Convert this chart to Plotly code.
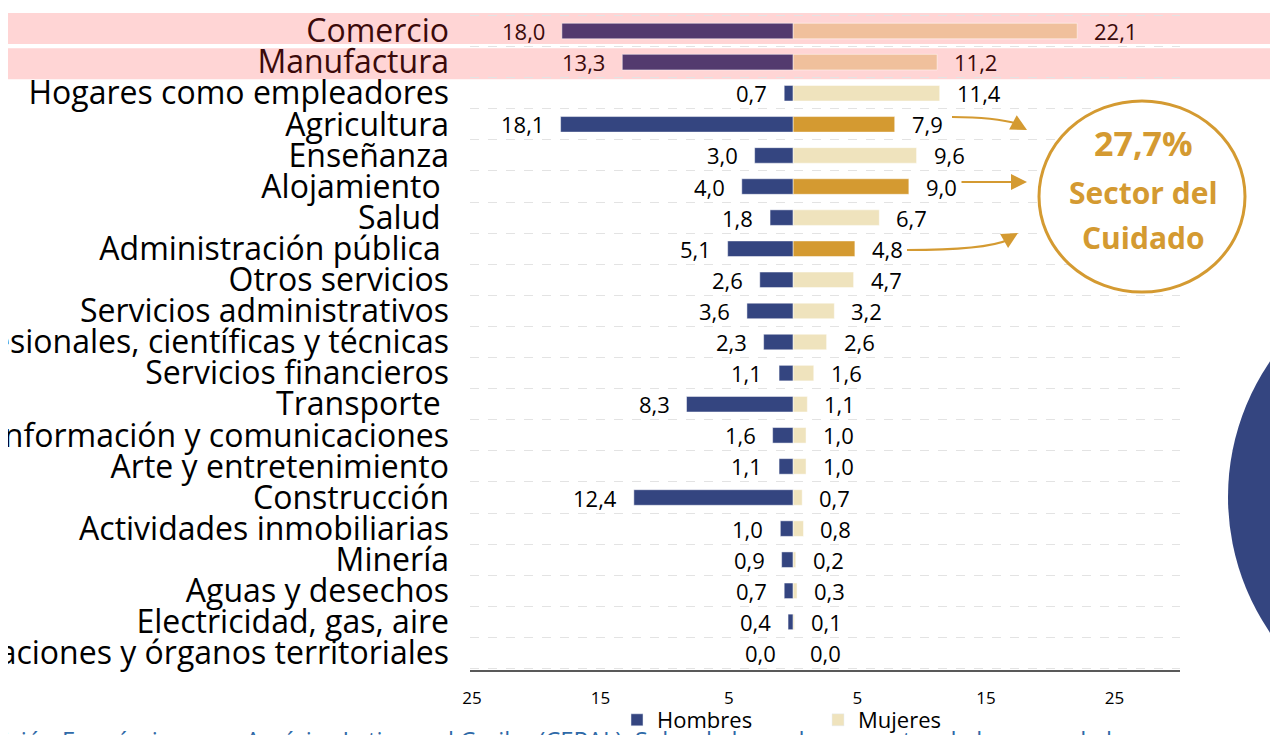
import plotly.graph_objects as go

categories = [
    "Comercio", "Manufactura", "Hogares como empleadores", "Agricultura",
    "Enseñanza", "Alojamiento\u00a0", "Salud\u00a0", "Administración pública\u00a0",
    "Otros servicios", "Servicios administrativos",
    "Profesionales, científicas y técnicas", "Servicios financieros",
    "Transporte\u00a0", "Información y comunicaciones", "Arte y entretenimiento",
    "Construcción", "Actividades inmobiliarias", "Minería", "Aguas y desechos",
    "Electricidad, gas, aire", "Organizaciones y órganos territoriales",
]
hombres = [18.0, 13.3, 0.7, 18.1, 3.0, 4.0, 1.8, 5.1, 2.6, 3.6, 2.3, 1.1, 8.3,
           1.6, 1.1, 12.4, 1.0, 0.9, 0.7, 0.4, 0.0]
mujeres = [22.1, 11.2, 11.4, 7.9, 9.6, 9.0, 6.7, 4.8, 4.7, 3.2, 2.6, 1.6, 1.1,
           1.0, 1.0, 0.7, 0.8, 0.2, 0.3, 0.1, 0.0]
highlight = ["Comercio", "Manufactura"]
care = ["Agricultura", "Alojamiento\u00a0", "Administración pública\u00a0"]
tick_vals = [-25, -15, -5, 5, 15, 25]
tick_text = ["25", "15", "5", "5", "15", "25"]
care_total = "27,7%"

C_H = "#344580"
C_M = "#efe3bd"
C_HH = "#533a6e"
C_MH = "#f0c09c"
C_CARE = "#d49a31"
C_HL_TXT = "#3b0a0a"
FONT = "Open Sans"

h_colors = [C_HH if c in highlight else C_H for c in categories]
m_colors = [C_MH if c in highlight else (C_CARE if c in care else C_M) for c in categories]

fig = go.Figure()
fig.add_trace(go.Bar(y=categories, x=[-v for v in hombres], orientation="h",
                     marker=dict(color=h_colors, line=dict(color="rgba(255,255,255,0.6)", width=0.8)),
                     showlegend=False, hoverinfo="skip"))
fig.add_trace(go.Bar(y=categories, x=mujeres, orientation="h",
                     marker=dict(color=m_colors, line=dict(color="rgba(255,255,255,0.6)", width=0.8)),
                     showlegend=False, hoverinfo="skip"))
# legend entries
fig.add_trace(go.Bar(y=[None], x=[None], orientation="h", name="Hombres", marker_color=C_H))
fig.add_trace(go.Bar(y=[None], x=[None], orientation="h", name="Mujeres", marker_color=C_M))

def fmt(v):
    return f"{v:.1f}".replace(".", ",")

annotations = []
for c, h, m in zip(categories, hombres, mujeres):
    col = C_HL_TXT if c in highlight else "#000000"
    annotations.append(dict(x=-h, y=c, xref="x", yref="y", text=fmt(h), showarrow=False,
                            xanchor="right", yanchor="middle", xshift=-15,
                            font=dict(family=FONT, size=22, color=col)))
    annotations.append(dict(x=m, y=c, xref="x", yref="y", text=fmt(m), showarrow=False,
                            xanchor="left", yanchor="middle", xshift=15,
                            font=dict(family=FONT, size=22, color=col)))

# page offset (body margin) and plot area in page pixels
OFF = 8
PL, PR, PT, PB = 470, 1180, 13, 670
L, R, T, B = PL - OFF, PR - OFF, PT - OFF, PB - OFF
def px(x):
    return (x - PL) / (PR - PL)
def py(y):
    return (PB - y) / (PB - PT)

ticktext_y = [f"<span style='color:{C_HL_TXT}'>{c}</span>" if c in highlight else c for c in categories]

# highlight bands (extent around each highlighted row, with a small white gap between them)
band_extent = {"Comercio": (-0.58, 0.42), "Manufactura": (-0.45, 0.55)}
shapes = []
for i, c in enumerate(categories):
    if c in highlight:
        lo, hi = band_extent[c]
        shapes.append(dict(type="rect", xref="paper", yref="y", x0=px(5), x1=px(1300),
                           y0=i + lo, y1=i + hi, fillcolor="#ffd5d5", line_width=0, layer="below"))
# care circle
shapes.append(dict(type="circle", xref="paper", yref="paper", x0=px(1039), x1=px(1245),
                   y0=py(292), y1=py(101), fillcolor="white", line=dict(color=C_CARE, width=3)))
# big decorative circle at right
shapes.append(dict(type="circle", xref="paper", yref="paper", x0=px(1228), x1=px(1708),
                   y0=py(737), y1=py(257), fillcolor=C_H, line_width=0))
# curved arrows
shapes.append(dict(type="path", xref="paper", yref="paper",
                   path=f"M {px(952)} {py(117)} Q {px(995)} {py(117)} {px(1018)} {py(124)}",
                   line=dict(color=C_CARE, width=2)))
shapes.append(dict(type="path", xref="paper", yref="paper",
                   path=f"M {px(907)} {py(250)} Q {px(985)} {py(250)} {px(1008)} {py(240)}",
                   line=dict(color=C_CARE, width=2)))

arrows = [((1014, 123), (1027, 130)), ((960, 182), (1027, 182)), ((1004, 241), (1018, 233))]
for (x0, y0), (x1, y1) in arrows:
    annotations.append(dict(xref="paper", yref="paper", axref="pixel", ayref="pixel",
                            x=px(x1), y=py(y1), ax=x0 - x1, ay=y0 - y1, text="",
                            showarrow=True, arrowhead=2, arrowsize=1.6, arrowwidth=2,
                            arrowcolor=C_CARE))

for txt, y, size in [(f"<b>{care_total}</b>", 143, 34), ("<b>Sector del</b>", 192, 30),
                     ("<b>Cuidado</b>", 237, 30)]:
    annotations.append(dict(xref="paper", yref="paper", x=px(1143), y=py(y), text=txt,
                            xanchor="center", yanchor="middle", showarrow=False,
                            font=dict(family=FONT, size=size, color=C_CARE)))
# source note (partially cut at bottom)
annotations.append(dict(xref="paper", yref="paper", x=px(1127), y=py(740), xanchor="right",
                        yanchor="middle",
                        text="Fuente: Comisión Económica para América Latina y el Caribe (CEPAL). Sobre la base de encuestas de hogares de la",
                        showarrow=False, font=dict(family=FONT, size=23.8, color="#2f6aa8")))

fig.update_layout(
    width=1278, height=735,
    margin=dict(l=L, r=1278 - R, t=T, b=735 - B, autoexpand=False),
    paper_bgcolor="white", plot_bgcolor="rgba(0,0,0,0)",
    barmode="overlay", bargap=0.5,
    font=dict(family=FONT, color="black"),
    shapes=shapes, annotations=annotations,
    legend=dict(orientation="h", x=px(617), y=py(720), xanchor="left", yanchor="middle",
                font=dict(family=FONT, size=22, color="black"), entrywidth=156,
                entrywidthmode="pixels", bgcolor="rgba(0,0,0,0)", itemwidth=30),
)
fig.update_xaxes(range=[-25.15, 30.1], tickvals=tick_vals, ticktext=tick_text, automargin=False,
                 showgrid=False, zeroline=False, showline=True, linecolor="#595959", linewidth=1.5,
                 ticks="", ticklabelstandoff=12, tickfont=dict(family=FONT, size=17, color="black"),
                 fixedrange=True)
fig.update_yaxes(categoryorder="array", categoryarray=categories, tickvals=categories,
                 ticktext=ticktext_y, autorange="reversed", automargin=False,
                 tickson="boundaries", showgrid=True, gridcolor="#e3e3e3", griddash="dash",
                 gridwidth=1.2, zeroline=False, showline=False, ticks="",
                 ticklabelstandoff=20, tickfont=dict(family=FONT, size=32, color="black"),
                 fixedrange=True)

fig.write_html("out.html")
